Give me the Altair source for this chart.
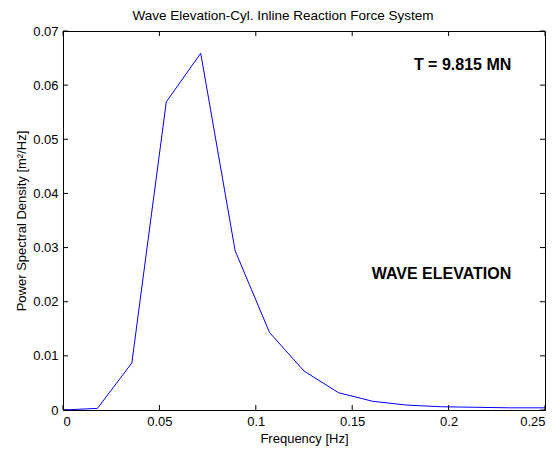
import altair as alt
import pandas as pd

freq = [0.0, 0.01786, 0.03571, 0.05357, 0.07143, 0.08929, 0.10714, 0.125,
        0.14286, 0.16071, 0.17857, 0.19643, 0.21429, 0.23214, 0.25]
psd = [0.0, 0.0003, 0.0087, 0.0569, 0.0659, 0.0294, 0.0143, 0.0072,
       0.0032, 0.0016, 0.0009, 0.0006, 0.0005, 0.0004, 0.0004]

ann_x = [0.2325, 0.2325]
ann_y = [0.0637, 0.0251]
ann_text = ["T = 9.815 MN", "WAVE ELEVATION"]

xticks = [0, 0.05, 0.1, 0.15, 0.2, 0.25]
yticks = [0, 0.01, 0.02, 0.03, 0.04, 0.05, 0.06, 0.07]

df = pd.DataFrame({"f": freq, "p": psd})
ann = pd.DataFrame({"x": ann_x, "y": ann_y, "t": ann_text})
xt = pd.DataFrame({"v": xticks})
yt = pd.DataFrame({"v": yticks})

FONT = "Liberation Sans"
W, H, TK = 482, 379, 5

xscale = alt.Scale(domain=[0, 0.25], nice=False, zero=False)
yscale = alt.Scale(domain=[0, 0.07], nice=False, zero=False)

common_axis = dict(domain=False, grid=False, ticks=False,
                   labelColor="black", labelFont=FONT, labelFontSize=13,
                   titleColor="black", titleFont=FONT, titleFontSize=13,
                   titleFontWeight="normal", labelPadding=5)

line = alt.Chart(df).mark_line(color="#0000ff", strokeWidth=1).encode(
    x=alt.X("f:Q", scale=xscale,
            axis=alt.Axis(title="Frequency [Hz]", values=xticks, labelExpr="datum.value == 0 ? '0' : format(datum.value, '~g')", **common_axis)),
    y=alt.Y("p:Q", scale=yscale,
            axis=alt.Axis(title="Power Spectral Density [m²/Hz]", values=yticks, labelExpr="datum.value == 0 ? '0' : format(datum.value, '~g')", **common_axis)),
)

tick_style = dict(color="black", strokeWidth=1)
xb = alt.Chart(xt).mark_rule(**tick_style).encode(
    x=alt.X("v:Q", scale=xscale, axis=None), y=alt.value(H), y2=alt.value(H - TK))
xtop = alt.Chart(xt).mark_rule(**tick_style).encode(
    x=alt.X("v:Q", scale=xscale, axis=None), y=alt.value(0), y2=alt.value(TK))
yl = alt.Chart(yt).mark_rule(**tick_style).encode(
    y=alt.Y("v:Q", scale=yscale, axis=None), x=alt.value(0), x2=alt.value(TK))
yr = alt.Chart(yt).mark_rule(**tick_style).encode(
    y=alt.Y("v:Q", scale=yscale, axis=None), x=alt.value(W), x2=alt.value(W - TK))

texts = alt.Chart(ann).mark_text(align="right", baseline="middle", font=FONT,
                                  fontSize=16, fontWeight="bold", color="black").encode(
    x=alt.X("x:Q", scale=xscale, axis=None),
    y=alt.Y("y:Q", scale=yscale, axis=None),
    text="t:N",
)

chart = alt.layer(line, xb, xtop, yl, yr, texts).resolve_axis(
    x="independent", y="independent"
).properties(
    width=W, height=H,
    title=alt.TitleParams("Wave Elevation-Cyl. Inline Reaction Force System",
                          font=FONT, fontSize=13.5, fontWeight="normal", color="black",
                          offset=3, dx=-21),
    padding={"left": 7, "top": 0, "right": 5, "bottom": 5},
).configure_view(stroke="black", strokeWidth=1)

chart.save("out.html", embed_options={"renderer": "svg", "actions": False})
